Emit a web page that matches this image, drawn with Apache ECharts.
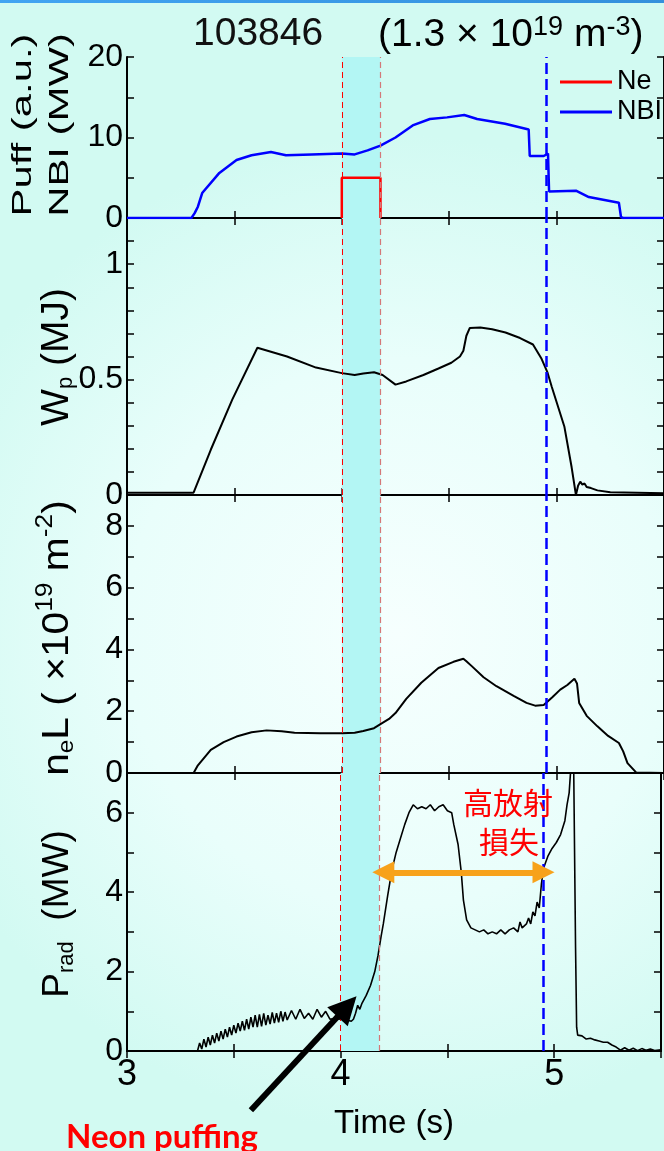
<!DOCTYPE html>
<html>
<head>
<meta charset="utf-8">
<script src="https://cdn.jsdelivr.net/npm/echarts@6/dist/echarts.min.js"></script>
<style>
  html, body { margin: 0; padding: 0; overflow: hidden; }
  #chart { width: 664px; height: 1151px; }
</style>
</head>
<body>
<div id="chart"></div>
<script>
// Shot 103846: neon puffing discharge, four stacked time traces

// ---- shared time axis ----
const timeRange = [3, 5.5];
const timeTickStep = 0.5;
const timeTickLabels = [3, 4, 5];

// ---- panel 1: Ne puff (a.u.) and NBI power (MW) ----
const neTime = [4.0, 4.0, 4.18, 4.18];
const neValue = [0, 5, 5, 0];
const nbiTime = [3.0, 3.30, 3.315, 3.33, 3.35, 3.43, 3.51, 3.58, 3.67, 3.74, 3.86, 4.0, 4.06, 4.12, 4.18,
  4.25, 4.33, 4.41, 4.49, 4.57, 4.63, 4.76, 4.87, 4.875, 4.94, 4.96, 4.965, 5.09, 5.15, 5.29, 5.30, 5.31, 5.5];
const nbiValue = [0, 0, 0.6, 1.4, 3.1, 5.6, 7.2, 7.8, 8.2, 7.8, 7.9, 8.0, 7.9, 8.4, 9.0,
  10.0, 11.5, 12.3, 12.5, 12.8, 12.3, 11.7, 11.0, 7.7, 7.7, 8.0, 3.3, 3.4, 2.6, 1.9, 0.1, 0, 0];
const puffTicks = [0, 20, 5];      // min, max, step
const puffTickLabels = [0, 10, 20];

// ---- panel 2: stored energy Wp (MJ) ----
const wpTime = [3.0, 3.31, 3.39, 3.49, 3.607, 3.745, 3.88, 4.0, 4.06, 4.1, 4.15, 4.19, 4.25, 4.3, 4.38,
  4.45, 4.51, 4.55, 4.566, 4.58, 4.596, 4.645, 4.7, 4.762, 4.83, 4.89, 4.93, 4.958, 4.977, 5.036,
  5.07, 5.09, 5.1, 5.11, 5.12, 5.13, 5.14, 5.16, 5.19, 5.25, 5.5];
const wpValue = [0.01, 0.01, 0.196, 0.413, 0.638, 0.60, 0.552, 0.528, 0.52, 0.526, 0.532, 0.52, 0.478, 0.492, 0.52,
  0.548, 0.573, 0.60, 0.625, 0.69, 0.724, 0.726, 0.718, 0.704, 0.68, 0.652, 0.59, 0.53, 0.47, 0.297,
  0.12, 0.0, 0.04, 0.058, 0.045, 0.05, 0.035, 0.03, 0.02, 0.012, 0.008];
const wpTicks = [0, 1.2, 0.1];
const wpTickLabels = [0, 0.5, 1];

// ---- panel 3: line density neL (1e19 m^-2) ----
const nelTime = [3.0, 3.31, 3.33, 3.39, 3.45, 3.51, 3.58, 3.65, 3.72, 3.78, 3.9, 4.0, 4.06, 4.1, 4.15,
  4.18, 4.22, 4.25, 4.3, 4.37, 4.45, 4.52, 4.566, 4.58, 4.605, 4.66, 4.72, 4.8, 4.86, 4.9,
  4.94, 4.98, 5.017, 5.05, 5.083, 5.095, 5.105, 5.14, 5.19, 5.24, 5.29, 5.31, 5.33, 5.37, 5.5];
const nelValue = [0, 0, 0.25, 0.75, 1.0, 1.18, 1.32, 1.38, 1.35, 1.30, 1.29, 1.29, 1.30, 1.36, 1.45,
  1.58, 1.75, 1.94, 2.4, 2.92, 3.4, 3.6, 3.7, 3.62, 3.46, 3.1, 2.81, 2.5, 2.27, 2.18,
  2.2, 2.45, 2.7, 2.85, 3.05, 2.9, 2.27, 1.85, 1.51, 1.2, 0.97, 0.7, 0.32, 0.02, 0];
const nelTicks = [0, 9, 1];
const nelTickLabels = [0, 2, 4, 6, 8];

// ---- panel 4: radiated power Prad (MW) ----
const pradTime = [
  3.00, 3.32, 3.33, 3.34, 3.35, 3.36, 3.37, 3.38, 3.39, 3.40,
  3.41, 3.42, 3.43, 3.44, 3.45, 3.46, 3.47, 3.48, 3.49, 3.50,
  3.51, 3.52, 3.53, 3.54, 3.55, 3.56, 3.57, 3.58, 3.59, 3.60,
  3.61, 3.62, 3.63, 3.64, 3.65, 3.66, 3.67, 3.68, 3.69, 3.70,
  3.71, 3.72, 3.73, 3.74, 3.75, 3.77, 3.79, 3.81, 3.83, 3.85,
  3.87, 3.89, 3.91, 3.93, 3.95, 3.97, 4.00, 4.03, 4.05, 4.06,
  4.07, 4.08, 4.09, 4.10, 4.12, 4.14, 4.16, 4.175, 4.19, 4.20,
  4.22, 4.24, 4.26, 4.28, 4.30, 4.32, 4.34, 4.36, 4.38, 4.40,
  4.42, 4.44, 4.46, 4.48, 4.50, 4.52, 4.53, 4.55, 4.565, 4.575,
  4.59, 4.61, 4.63, 4.65, 4.67, 4.69, 4.71, 4.73, 4.75, 4.77,
  4.79, 4.81, 4.83, 4.84, 4.85, 4.87, 4.88, 4.89, 4.90, 4.91,
  4.92, 4.93, 4.94, 4.95, 4.97, 4.99, 5.01, 5.03, 5.05, 5.06,
  5.07, 5.08, 5.09, 5.095, 5.10, 5.105, 5.11, 5.13, 5.15, 5.17,
  5.19, 5.21, 5.23, 5.25, 5.27, 5.29, 5.31, 5.33, 5.35, 5.37,
  5.39, 5.41, 5.43, 5.45, 5.47, 5.50
];
const pradValue = [
  0.00, 0.00, 0.00, 0.20, 0.05, 0.30, 0.10, 0.35, 0.15, 0.40,
  0.20, 0.45, 0.25, 0.50, 0.30, 0.55, 0.35, 0.60, 0.40, 0.65,
  0.45, 0.70, 0.50, 0.75, 0.52, 0.80, 0.55, 0.85, 0.60, 0.90,
  0.60, 0.92, 0.62, 0.95, 0.65, 0.90, 0.68, 0.97, 0.70, 0.95,
  0.72, 1.00, 0.75, 0.98, 0.78, 1.02, 0.80, 1.05, 0.82, 0.95,
  0.80, 1.05, 0.85, 1.00, 0.80, 0.82, 0.80, 0.78, 0.75, 0.80,
  0.95, 1.15, 1.05, 1.20, 1.40, 1.65, 2.00, 2.40, 2.90, 3.20,
  3.90, 4.55, 5.00, 5.35, 5.70, 6.00, 6.20, 6.10, 6.15, 6.10,
  6.20, 6.05, 6.15, 6.20, 6.05, 6.00, 5.70, 5.20, 4.50, 3.80,
  3.30, 3.10, 3.05, 3.00, 3.05, 2.95, 3.00, 2.95, 3.05, 2.95,
  3.05, 3.10, 3.00, 3.25, 3.10, 3.20, 3.35, 3.20, 3.50, 3.40,
  3.75, 3.60, 4.20, 4.60, 4.90, 5.10, 5.25, 5.45, 5.80, 6.20,
  6.50, 7.30, 7.80, 7.80, 2.60, 0.60, 0.40, 0.38, 0.30, 0.32,
  0.28, 0.25, 0.22, 0.22, 0.15, 0.10, 0.02, 0.08, 0.02, 0.07,
  0.01, 0.06, 0.02, 0.05, 0.01, 0.03
];
const pradTicks = [0, 7, 1];
const pradTickLabels = [0, 2, 4, 6];

// ---- event markers (s) ----
const puffWindow = [4.0, 4.18];
const collapseTime = 4.95;
// high radiation loss span: [t0, t1] at level (MW)
const lossSpan = [4.2, 4.95];
const lossLevel = 4.5;
// "Neon puffing" pointer: from [t, MW] to [t, MW]
const puffPointer = [[3.58, -1.49], [4.03, 1.12]];

const FONT = '"Liberation Sans", Arial, Helvetica, sans-serif';
const zip = (a, b) => a.map((v, i) => [v, b[i]]);
const hasLabel = (list) => (v) => list.some(l => Math.abs(l - v) < 1e-6) ? String(+v.toFixed(3)) : '';

// panel frames in pixels
const plotLeft = 127, plotWidth = 543;
const panels = [
  { top: 57, height: 161 },
  { top: 218, height: 277 },
  { top: 495, height: 278 },
  { top: 773, height: 278 }
];
const yScales = [
  { t: puffTicks, labels: puffTickLabels },
  { t: wpTicks, labels: wpTickLabels },
  { t: nelTicks, labels: nelTickLabels },
  { t: pradTicks, labels: pradTickLabels }
];

// vertical axis titles (rotated text, stretched along the reading direction)
const richFor = (size) => ({
  m: { fontSize: size, fontFamily: FONT, color: '#000' },
  sub: { fontSize: 22, fontFamily: FONT, color: '#000', padding: [18, 0, 0, 0] },
  sup: { fontSize: 24, fontFamily: FONT, color: '#000', padding: [0, 0, 26, 0] }
});
const yTitles = [
  { x: 42, y: 125, stretch: 1.55, style: { text: 'Puff (a.u.)\nNBI (MW)', font: '27px ' + FONT, lineHeight: 37 } },
  { x: 57, y: 357, stretch: 1.0, style: { text: '{m|W}{sub|p}{m| (MJ)}', rich: richFor(39) } },
  { x: 58, y: 638, stretch: 1.1, style: { text: '{m|n}{sub|e}{m|L ( ×10}{sup|19}{m| m}{sup|-2}{m|)}', rich: richFor(37) } },
  { x: 58, y: 914, stretch: 1.0, style: { text: '{m|P}{sub|rad}{m|  (MW)}', rich: richFor(37) } }
];

const axisLine = { lineStyle: { color: '#000', width: 2 } };
const axisTick = { inside: true, length: 7, lineStyle: { color: '#000', width: 1.5 } };

const grids = [], xAxes = [], yAxes = [];
panels.forEach((p, i) => {
  grids.push({ left: plotLeft, width: plotWidth, top: p.top, height: p.height, containLabel: false });
  const last = i === panels.length - 1;
  xAxes.push({
    gridIndex: i, type: 'value', position: 'bottom',
    min: timeRange[0], max: timeRange[1], interval: timeTickStep,
    axisLine, axisTick, splitLine: { show: false },
    axisLabel: { show: last, formatter: hasLabel(timeTickLabels), fontSize: 36, fontFamily: FONT, color: '#000', margin: 6 },
    name: last ? 'Time (s)' : '', nameLocation: 'middle', nameGap: 56,
    nameTextStyle: { fontSize: 33, fontFamily: FONT, color: '#000' }
  });
  xAxes.push({
    gridIndex: i, type: 'value', position: 'top',
    min: timeRange[0], max: timeRange[1], interval: timeTickStep,
    axisLine, axisTick, splitLine: { show: false }, axisLabel: { show: false }
  });
  const s = yScales[i];
  yAxes.push({
    gridIndex: i, type: 'value', position: 'left',
    min: s.t[0], max: s.t[1], interval: s.t[2],
    axisLine, axisTick, splitLine: { show: false },
    axisLabel: { formatter: hasLabel(s.labels), fontSize: 32, fontFamily: FONT, color: '#000', margin: 4 }
  });
  yAxes.push({
    gridIndex: i, type: 'value', position: 'right',
    min: s.t[0], max: s.t[1], interval: s.t[2],
    axisLine, axisTick, splitLine: { show: false }, axisLabel: { show: false }
  });
});

// puff window band and vertical timing lines, repeated in every panel
const markers = {
  markArea: {
    silent: true,
    itemStyle: { color: '#b3f6f4', opacity: 1 },
    data: [[{ xAxis: puffWindow[0] }, { xAxis: puffWindow[1] }]]
  },
  markLine: {
    silent: true, symbol: 'none', label: { show: false },
    emphasis: { disabled: true },
    data: [
      { xAxis: puffWindow[0], lineStyle: { color: '#ff0000', width: 1, type: [6, 4] } },
      { xAxis: puffWindow[1], lineStyle: { color: '#d47878', width: 1.2, type: [6, 4] } },
      { xAxis: collapseTime, lineStyle: { color: '#0000ff', width: 2.5, type: [11, 5] } }
    ]
  }
};

const trace = (name, i, t, v, color, width, withMarkers) => Object.assign({
  name, type: 'line', xAxisIndex: 2 * i, yAxisIndex: 2 * i,
  data: zip(t, v), showSymbol: false, symbol: 'none', animation: false,
  lineStyle: { color, width }, itemStyle: { color }
}, withMarkers ? markers : {});

const series = [
  trace('Ne', 0, neTime, neValue, '#ff0000', 2.5, false),
  trace('NBI', 0, nbiTime, nbiValue, '#0000ff', 2.5, true),
  trace('Wp', 1, wpTime, wpValue, '#000', 2, true),
  trace('neL', 2, nelTime, nelValue, '#000', 2, true),
  trace('Prad', 3, pradTime, pradValue, '#000', 1.6, true),
  {
    type: 'lines', coordinateSystem: 'cartesian2d', xAxisIndex: 6, yAxisIndex: 6,
    clip: false, silent: true, animation: false, z: 6,
    symbol: ['triangle', 'triangle'], symbolSize: [22, 22],
    lineStyle: { color: '#f7a21b', width: 6, opacity: 1 },
    data: [{ coords: [[lossSpan[0], lossLevel], [lossSpan[1], lossLevel]] }]
  },
  {
    type: 'lines', coordinateSystem: 'cartesian2d', xAxisIndex: 6, yAxisIndex: 6,
    clip: false, silent: true, animation: false, z: 6,
    symbol: ['none', 'triangle'], symbolSize: [26, 28],
    lineStyle: { color: '#000', width: 6, opacity: 1 },
    data: [{ coords: puffPointer }]
  }
];

const graphics = [
  {
    type: 'rect', z: -100, silent: true,
    shape: { x: 0, y: 0, width: 664, height: 1151 },
    style: {
      fill: new echarts.graphic.RadialGradient(0.6, 0.55, 0.75, [
        { offset: 0, color: '#f6fffe' },
        { offset: 0.55, color: '#e9fefb' },
        { offset: 1, color: '#d2faf2' }
      ])
    }
  },
  {
    type: 'rect', z: 10, silent: true,
    shape: { x: 0, y: 0, width: 664, height: 3 },
    style: {
      fill: new echarts.graphic.LinearGradient(0, 0, 1, 0, [
        { offset: 0, color: '#42a4f2' },
        { offset: 1, color: '#3490dc' }
      ])
    }
  },
  {
    type: 'text', x: 193, y: 34, z: 10, silent: true,
    style: { text: '103846', font: '39px ' + FONT, fill: '#111', verticalAlign: 'middle' }
  },
  {
    type: 'text', x: 378, y: 14, z: 10, silent: true,
    style: {
      text: '{m|(1.3 × 10}{sup|19}{m| m}{sup|-3}{m|)}',
      rich: {
        m: { fontSize: 39, fontFamily: FONT, color: '#111' },
        sup: { fontSize: 27, fontFamily: FONT, color: '#111', padding: [0, 0, 16, 0] }
      },
      verticalAlign: 'top'
    }
  },
  {
    type: 'text', x: 508, y: 803, z: 10, silent: true,
    style: { text: '高放射', font: '30px "Noto Sans CJK JP", sans-serif', fill: '#ff0000', align: 'center', verticalAlign: 'middle' }
  },
  {
    type: 'text', x: 509, y: 842, z: 10, silent: true,
    style: { text: '損失', font: '30px "Noto Sans CJK JP", sans-serif', fill: '#ff0000', align: 'center', verticalAlign: 'middle' }
  },
  {
    type: 'text', x: 162, y: 1137, z: 10, silent: true,
    style: { text: 'Neon puffing', font: 'bold 33px Lato, "Open Sans", sans-serif', fill: '#ff0000', align: 'center', verticalAlign: 'middle' }
  }
];
yTitles.forEach(t => graphics.push({
  type: 'text', x: t.x, y: t.y, rotation: Math.PI / 2, scaleX: t.stretch, z: 10, silent: true,
  style: Object.assign({ fill: '#000', align: 'center', verticalAlign: 'middle' }, t.style)
}));

const chart = echarts.init(document.getElementById('chart'), null, { renderer: 'canvas' });
chart.setOption({
  animation: false,
  backgroundColor: '#d6fcf5',
  grid: grids,
  xAxis: xAxes,
  yAxis: yAxes,
  legend: {
    data: ['Ne', 'NBI'], orient: 'vertical', left: 555, top: 63,
    icon: 'rect', itemWidth: 52, itemHeight: 3, itemGap: 2,
    textStyle: { fontSize: 27, fontFamily: FONT, color: '#000', lineHeight: 28 },
    selectedMode: false
  },
  series,
  graphic: graphics
});
</script>
</body>
</html>
